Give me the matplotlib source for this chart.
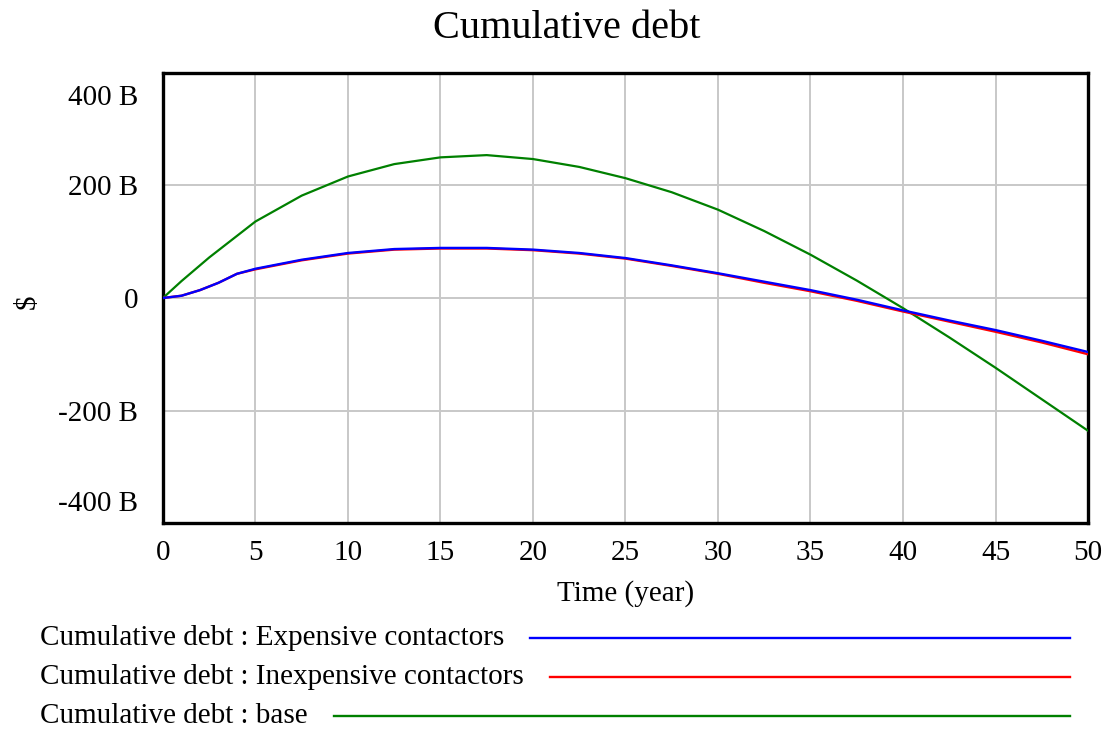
import numpy as np
import matplotlib
matplotlib.use("Agg")
import matplotlib.pyplot as plt
import matplotlib.transforms as mtransforms

plt.rcParams['font.family'] = ['Liberation Serif', 'DejaVu Serif']

# years
t_base = [0, 1, 2.5, 5, 7.5, 10, 12.5, 15, 17.5, 20, 22.5, 25, 27.5, 30,
          32.5, 35, 37.5, 40, 42.5, 45, 47.5, 50]
# cumulative debt, billions of $
debt_base = [0, 30, 72, 136, 182, 216, 238, 250, 254, 247, 233, 213, 188, 157,
             119, 77, 31, -18, -70, -124, -180, -236]

t_scen = [0, 1, 2, 3, 4, 5, 7.5, 10, 12.5, 15, 17.5, 20, 22.5, 25, 27.5,
          30, 32.5, 35, 37.5, 40, 42.5, 45, 47.5, 50]
debt_expensive = [0, 4, 14, 27, 43, 52, 68, 80, 87, 89, 89, 86, 80, 71, 58,
                  44, 29, 14, -3, -22, -40, -57, -76, -96]
debt_inexpensive = [0, 4, 14, 27, 43, 51, 67, 79, 86, 88, 88, 85, 79, 70, 57,
                    43, 27, 12, -5, -24, -42, -60, -79, -100]

labels = ["Cumulative debt : Expensive contactors",
          "Cumulative debt : Inexpensive contactors",
          "Cumulative debt : base"]
colors = ["#0000ff", "#ff0000", "#008000"]

yticks = [-400, -200, 0, 200, 400]
ytick_labels = ["-400 B", "-200 B", "0", "200 B", "400 B"]
xticks = list(range(0, 55, 5))

fig = plt.figure(figsize=(11.1, 7.32), dpi=100)
ax = fig.add_axes([0.1468, 0.2855, 0.8334, 0.6148])

ax.plot(t_base, debt_base, color=colors[2], lw=1.6, zorder=3)
ax.plot(t_scen, debt_inexpensive, color=colors[1], lw=1.7, zorder=4)
ax.plot(t_scen, debt_expensive, color=colors[0], lw=1.7, zorder=5)

ax.set_xlim(0, 50)
ax.set_ylim(-400, 400)
ax.set_xticks(xticks)
ax.set_yticks(yticks)
ax.set_yticklabels(ytick_labels)
ax.grid(True, color="#c8c8c8", lw=1.4)
ax.set_axisbelow(True)
ax.tick_params(length=0, labelsize=21, pad=18)
ax.tick_params(axis='x', pad=12)
for s in ax.spines.values():
    s.set_linewidth(2.4)
    s.set_color("black")

# pull the extreme y labels inside like the original
ylabs = ax.get_yticklabels()
ylabs[0].set_transform(ylabs[0].get_transform() +
                       mtransforms.ScaledTranslation(0, 22 / 100, fig.dpi_scale_trans))
ylabs[-1].set_transform(ylabs[-1].get_transform() +
                        mtransforms.ScaledTranslation(0, -22 / 100, fig.dpi_scale_trans))

ax.set_xlabel("Time (year)", fontsize=21, labelpad=10)
fig.text(28 / 1110, 1 - 302 / 732, "$", rotation=90, fontsize=21,
         ha="center", va="center")
fig.text(567 / 1110, 1 - 28 / 732, "Cumulative debt", fontsize=29,
         ha="center", va="center")

# legend drawn below the plot
fig.canvas.draw()
renderer = fig.canvas.get_renderer()
rows_y = [638, 677, 716]
for lab, col, ry in zip(labels, colors, rows_y):
    yf = 1 - ry / 732
    txt = fig.text(40 / 1110, yf, lab, fontsize=21, ha="left", va="center")
    bb = txt.get_window_extent(renderer)
    x0 = (bb.x1 + 26) / 1110
    fig.add_artist(plt.Line2D([x0, 1070 / 1110], [yf, yf], color=col, lw=1.7,
                              transform=fig.transFigure))

fig.savefig("out.png", dpi=100)
plt.close(fig)
